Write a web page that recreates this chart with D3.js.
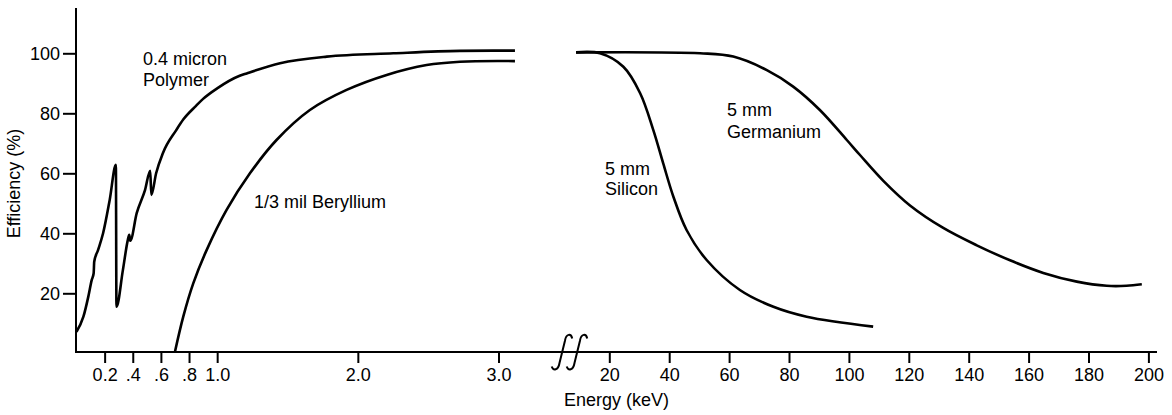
<!DOCTYPE html>
<html>
<head>
<meta charset="utf-8">
<script src="https://cdn.jsdelivr.net/npm/d3@7"></script>
<style>
  html, body { margin: 0; padding: 0; background: #fff; }
  svg { display: block; }
  text { font-family: "Liberation Sans", Arial, Helvetica, sans-serif; font-size: 18px; fill: #000; }
</style>
</head>
<body>
<svg id="chart" width="1172" height="415"></svg>
<script>
// ---- data ----
const lowTicks = [0.2, 0.4, 0.6, 0.8, 1.0, 2.0, 3.0];
const lowTickLabels = ["0.2", ".4", ".6", ".8", "1.0", "2.0", "3.0"];
const highTicks = [20, 40, 60, 80, 100, 120, 140, 160, 180, 200];
const highTickLabels = ["20", "40", "60", "80", "100", "120", "140", "160", "180", "200"];
const yTicks = [20, 40, 60, 80, 100];

// 0.4 micron Polymer window (energy keV, efficiency %)
const polymerE   = [0.000, 0.049, 0.084, 0.108, 0.122, 0.126, 0.153, 0.189, 0.236, 0.280, 0.284, 0.330, 0.365, 0.375, 0.382, 0.428, 0.487, 0.524, 0.532, 0.566, 0.614, 0.709, 0.760, 0.850, 0.900, 1.000, 1.160, 1.210, 1.447, 1.779, 2.252, 2.726, 3.117];
const polymerEff = [7.2,   12.2,  18.9,  24.4,  26.7,  30.5,  34.4,  40.0,  51.1,  62.8,  15.5,  27.8,  37.8,  39.5,  37.5,  46.7,  54.4,  60.8,  52.8,  60.0,  66.7,  74.4,  78.0,  82.5,  84.8,  88.3,  92.5,  93.3,  96.7,  98.9, 100.0, 100.8, 100.9];

// 1/3 mil Beryllium window
const berylE   = [0.700, 0.759, 0.830, 0.925, 1.067, 1.233, 1.422, 1.659, 1.920, 2.205, 2.489, 2.726, 3.117];
const berylEff = [0.5,   12.2,  23.3,  34.4,  47.8,  60.0,  71.1,  81.1,  87.8,  92.8,  96.1,  97.2,  97.4];

// 5 mm Silicon
const siliconE   = [8.9,   16.9,  24.7, 30.3, 34.7, 38.0, 41.4, 45.8, 52.5, 63.6, 74.8, 85.9, 108.1];
const siliconEff = [100.3, 100.0, 95.5, 86.7, 74.4, 63.3, 52.2, 41.1, 31.1, 21.1, 15.5, 12.2, 8.9];

// 5 mm Germanium
const germE   = [8.9,   50.3,  61.4, 72.6, 81.4, 90.3, 99.3, 103.7, 111.5, 120.4, 131.5, 142.7, 153.8, 164.9, 176.1, 186.1, 192.7, 197.8];
const germEff = [100.3, 100.0, 98.9, 94.4, 88.9, 81.1, 71.1, 66.1,  57.5,  49.3,  41.8,  36.0,  31.0,  26.8,  23.9,  22.5,  22.5,  23.0];

// ---- layout ----
const svg = d3.select("#chart");
const axisY = 352, axisX = 76;

const xLow = d3.scaleLinear().domain([0, 3]).range([76.5, 498.5]);
const xHigh = d3.scaleLinear().domain([0, 200]).range([549.4, 1148.4]);
const y = d3.scaleLinear().domain([0, 100]).range([353.3, 53.3]);

const zip = (a, b) => a.map((v, i) => [v, b[i]]);

// axes lines
svg.append("line").attr("x1", axisX).attr("x2", axisX).attr("y1", 8).attr("y2", axisY + 1)
  .attr("stroke", "#000").attr("stroke-width", 2);
svg.append("line").attr("x1", axisX - 1).attr("x2", 1157).attr("y1", axisY).attr("y2", axisY)
  .attr("stroke", "#000").attr("stroke-width", 2);

function styleAxis(g) {
  g.select(".domain").remove();
  g.selectAll(".tick line").attr("stroke", "#000").attr("stroke-width", 2);
  g.selectAll(".tick text").attr("fill", "#000")
    .style("font-family", '"Liberation Sans", Arial, Helvetica, sans-serif').style("font-size", "18px");
}

svg.append("g").attr("transform", `translate(0,${axisY})`)
  .call(d3.axisBottom(xLow).tickValues(lowTicks).tickFormat((d, i) => lowTickLabels[i]).tickSize(11).tickPadding(5))
  .call(styleAxis);
svg.append("g").attr("transform", `translate(0,${axisY})`)
  .call(d3.axisBottom(xHigh).tickValues(highTicks).tickFormat((d, i) => highTickLabels[i]).tickSize(11).tickPadding(5))
  .call(styleAxis);
svg.append("g").attr("transform", `translate(${axisX},0)`)
  .call(d3.axisLeft(y).tickValues(yTicks).tickFormat(d3.format("d")).tickSize(13).tickPadding(3))
  .call(styleAxis);

// axis break symbols (integral-like squiggles)
[561.7, 576.7].forEach(cx => {
  svg.append("path")
    .attr("d", `M${cx + 10.5},338.5 C${cx + 9.5},333.5 ${cx + 4.5},333 ${cx + 3.2},341 L${cx - 2.2},363 C${cx - 3.5},370.8 ${cx - 8.5},370.8 ${cx - 10},366.5`)
    .attr("fill", "none").attr("stroke", "#000").attr("stroke-width", 2);
});

// curves
const lineLowJagged = d3.line().x(d => xLow(d[0])).y(d => y(d[1])).curve(d3.curveMonotoneX);
const lineLowSmooth = d3.line().x(d => xLow(d[0])).y(d => y(d[1])).curve(d3.curveCatmullRom.alpha(0.5));
const lineHigh = d3.line().x(d => xHigh(d[0])).y(d => y(d[1])).curve(d3.curveCatmullRom.alpha(0.5));

const curveStyle = p => p.attr("fill", "none").attr("stroke", "#000").attr("stroke-width", 2.6)
  .attr("stroke-linejoin", "round").attr("stroke-linecap", "butt");

svg.append("path").datum(zip(polymerE, polymerEff)).attr("d", lineLowJagged).call(curveStyle);
svg.append("path").datum(zip(berylE, berylEff)).attr("d", lineLowSmooth).call(curveStyle);
svg.append("path").datum(zip(siliconE, siliconEff)).attr("d", lineHigh).call(curveStyle);
svg.append("path").datum(zip(germE, germEff)).attr("d", lineHigh).call(curveStyle);

// labels
const labels = [
  { t: "0.4 micron", x: 143, y: 64.5 },
  { t: "Polymer", x: 143, y: 85.5 },
  { t: "1/3 mil Beryllium", x: 254, y: 208 },
  { t: "5 mm", x: 727, y: 116 },
  { t: "Germanium", x: 727, y: 137.5 },
  { t: "5 mm", x: 605, y: 174.5 },
  { t: "Silicon", x: 605, y: 194.5 }
];
svg.selectAll("text.lbl").data(labels).enter().append("text").attr("class", "lbl")
  .attr("x", d => d.x).attr("y", d => d.y).text(d => d.t);

svg.append("text").attr("x", 564).attr("y", 405.5).text("Energy (keV)");
svg.append("text").attr("transform", "translate(20,183.5) rotate(-90)")
  .attr("text-anchor", "middle").text("Efficiency (%)");
</script>
</body>
</html>
